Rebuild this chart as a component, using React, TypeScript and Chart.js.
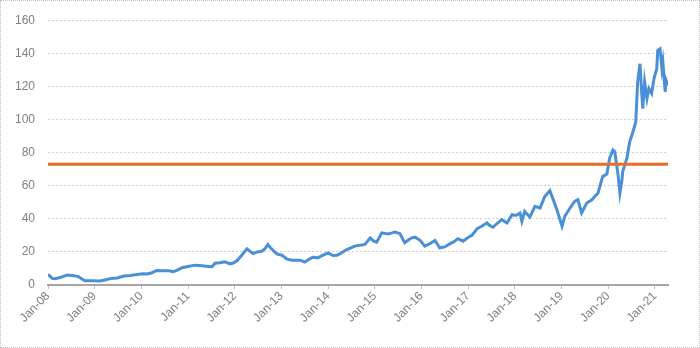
import React, { useEffect, useRef } from "react";
import { Chart, registerables } from "chart.js";

Chart.register(...registerables);

// Decimal-year positions of the estimated points and their values
const dates: number[] = [
  2008.0, 2008.09, 2008.15, 2008.26, 2008.41, 2008.51, 2008.64, 2008.73, 2008.79, 2008.94,
  2009.11, 2009.22, 2009.35, 2009.48, 2009.63, 2009.76, 2009.91, 2010.03, 2010.12, 2010.21,
  2010.33, 2010.46, 2010.59, 2010.68, 2010.76, 2010.87, 2011.0, 2011.15, 2011.3, 2011.43,
  2011.51, 2011.58, 2011.68, 2011.79, 2011.9, 2011.98, 2012.05, 2012.15, 2012.26, 2012.39,
  2012.48, 2012.58, 2012.65, 2012.71, 2012.78, 2012.9, 2013.01, 2013.12, 2013.22, 2013.33,
  2013.4, 2013.5, 2013.59, 2013.67, 2013.78, 2013.89, 2014.0, 2014.1, 2014.19, 2014.25,
  2014.4, 2014.49, 2014.57, 2014.68, 2014.79, 2014.9, 2014.98, 2015.04, 2015.15, 2015.28,
  2015.37, 2015.43, 2015.54, 2015.64, 2015.71, 2015.79, 2015.86, 2015.97, 2016.07, 2016.18,
  2016.29, 2016.39, 2016.5, 2016.61, 2016.69, 2016.78, 2016.89, 2016.99, 2017.08, 2017.19,
  2017.29, 2017.4, 2017.46, 2017.53, 2017.61, 2017.72, 2017.83, 2017.94, 2018.02, 2018.11,
  2018.15, 2018.21, 2018.32, 2018.43, 2018.54, 2018.64, 2018.75, 2018.81, 2018.9, 2019.01,
  2019.07, 2019.18, 2019.28, 2019.35, 2019.43, 2019.54, 2019.65, 2019.71, 2019.78, 2019.88,
  2019.97, 2020.03, 2020.1, 2020.14, 2020.18, 2020.21, 2020.25, 2020.29, 2020.31, 2020.4,
  2020.46, 2020.53, 2020.59, 2020.61, 2020.63, 2020.68, 2020.72, 2020.74, 2020.78, 2020.83,
  2020.87, 2020.93, 2020.98, 2021.04, 2021.06, 2021.11, 2021.15, 2021.17, 2021.22, 2021.24,
  2021.28,
];

const values: number[] = [
  6.4, 4.0, 3.8, 4.5, 6.0, 5.8, 5.2, 3.6, 2.6, 2.5,
  2.4, 3.0, 4.0, 4.2, 5.4, 5.8, 6.4, 6.8, 6.6, 7.2,
  8.8, 8.6, 8.6, 8.0, 8.8, 10.4, 11.2, 12.0, 11.6, 11.2,
  11.0, 13.2, 13.4, 14.0, 12.8, 13.4, 14.8, 18.0, 21.8, 19.0,
  20.0, 20.4, 22.0, 24.5, 22.0, 18.8, 18.0, 15.6, 15.0, 15.0,
  15.0, 13.8, 15.5, 16.8, 16.4, 18.0, 19.4, 17.8, 18.0, 18.8,
  21.4, 22.5, 23.5, 24.0, 24.5, 28.5, 26.5, 25.9, 31.5, 30.9,
  31.5, 32.0, 31.0, 25.5, 27.0, 28.5, 28.9, 27.0, 23.5, 25.0,
  26.9, 22.5, 23.0, 25.0, 26.0, 28.0, 26.5, 28.5, 30.0, 34.0,
  35.5, 37.5, 36.0, 34.9, 37.0, 39.5, 37.5, 42.5, 42.0, 43.5,
  38.5, 44.5, 41.0, 47.5, 46.5, 53.5, 57.0, 52.5, 45.5, 35.5,
  41.5, 46.5, 50.5, 51.5, 43.5, 49.5, 51.5, 53.5, 55.5, 65.5,
  67.0, 76.6, 81.6, 80.6, 72.6, 66.6, 55.5, 62.5, 68.6, 76.6,
  86.6, 92.6, 98.6, 110.7, 122.7, 133.7, 114.7, 106.6, 122.7, 112.7,
  118.7, 115.7, 124.7, 130.7, 141.8, 142.7, 130.7, 134.7, 116.7, 123.7,
  120.7,
];

const thresholdValue = 73;

const tickLabels: string[] = [
  "Jan-08", "Jan-09", "Jan-10", "Jan-11", "Jan-12", "Jan-13", "Jan-14",
  "Jan-15", "Jan-16", "Jan-17", "Jan-18", "Jan-19", "Jan-20", "Jan-21",
];
const tickYears: number[] = tickLabels.map((l) => 2000 + parseInt(l.slice(4), 10));

const yTicks: number[] = [0, 20, 40, 60, 80, 100, 120, 140, 160];

export default function App() {
  const ref = useRef<HTMLCanvasElement | null>(null);

  useEffect(() => {
    if (!ref.current) return;
    const xMin = dates[0];
    const xMax = dates[dates.length - 1];
    const chart = new Chart(ref.current, {
      type: "line",
      data: {
        datasets: [
          {
            data: [
              { x: xMin, y: thresholdValue },
              { x: xMax, y: thresholdValue },
            ],
            borderColor: "#F06A22",
            borderWidth: 3,
            pointRadius: 0,
            order: 0,
          },
          {
            data: dates.map((d, i) => ({ x: d, y: values[i] })),
            borderColor: "#4A90D6",
            borderWidth: 3,
            pointRadius: 0,
            tension: 0,
            order: 1,
          },
        ],
      },
      options: {
        animation: false,
        responsive: false,
        maintainAspectRatio: false,
        layout: { padding: { top: 18, right: 32, left: 0, bottom: 0 } },
        plugins: { legend: { display: false }, tooltip: { enabled: false } },
        scales: {
          x: {
            type: "linear",
            min: xMin,
            max: xMax,
            afterBuildTicks: (scale: any) => {
              scale.ticks = tickYears.map((v) => ({ value: v }));
            },
            afterFit: (scale: any) => {
              scale.height = 63;
            },
            ticks: {
              autoSkip: false,
              maxRotation: 45,
              minRotation: 45,
              padding: 0,
              color: "#7F7F7F",
              font: { family: "Liberation Sans", size: 12 },
              callback: (v: any) => {
                const i = tickYears.indexOf(Number(v));
                return i >= 0 ? tickLabels[i] : "";
              },
            },
            grid: {
              drawOnChartArea: false,
              drawTicks: true,
              tickLength: 4,
              color: "#BFBFBF",
            },
            border: { display: true, color: "#A6A6A6", width: 2 },
          },
          y: {
            min: 0,
            max: 160,
            afterBuildTicks: (scale: any) => {
              scale.ticks = yTicks.map((v) => ({ value: v }));
            },
            afterFit: (scale: any) => {
              scale.width = 48;
            },
            ticks: {
              padding: 13,
              color: "#7F7F7F",
              font: { family: "Liberation Sans", size: 12 },
            },
            grid: {
              drawTicks: false,
              color: "#D0D0D0",
              lineWidth: 1,
            },
            border: { display: false, dash: [2, 2] },
          },
        },
      },
    });
    return () => chart.destroy();
  }, []);

  return (
    <div
      style={{
        position: "absolute",
        left: 0,
        top: 0,
        width: 700,
        height: 348,
        background: "#fff",
      }}
    >
      <canvas ref={ref} width={700} height={348} style={{ display: "block" }} />
      <div
        style={{
          position: "absolute",
          left: 0,
          top: 0,
          width: 698,
          height: 346,
          border: "1px dotted #C0C0C0",
          pointerEvents: "none",
        }}
      />
    </div>
  );
}
